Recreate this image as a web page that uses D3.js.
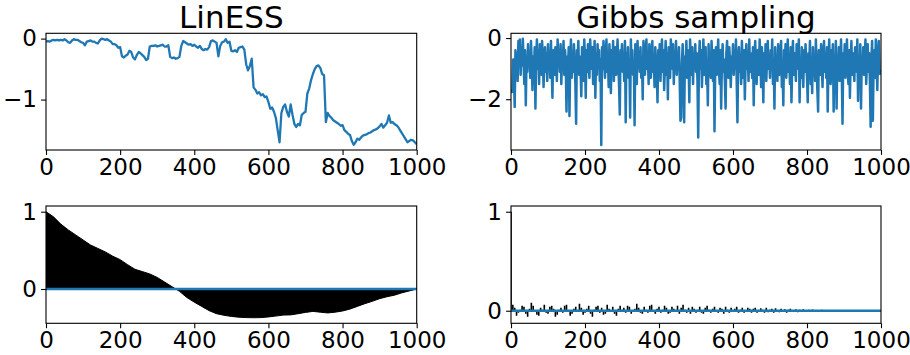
<!DOCTYPE html>
<html>
<head>
<meta charset="utf-8">
<script src="https://cdn.jsdelivr.net/npm/d3@7"></script>
<style>
  body { margin: 0; background: #fff; }
  svg { display: block; }
  text { font-family: "DejaVu Sans", sans-serif; fill: #000; }
</style>
</head>
<body>
<div id="chart"></div>
<script>
// --- data ---
const titles = ['LinESS', 'Gibbs sampling'];
const xTicks = [0, 200, 400, 600, 800, 1000];
const linessTraceTicks = [0, -1];
const gibbsTraceTicks = [0, -2];
const acfTicks = [0, 1];

// LinESS trace, one value every 5 iterations
const linessTraceStep = 5;
const linessTrace = [
  -0.05, -0.04, -0.05, -0.03, -0.02, -0.03, -0.02, -0.03, -0.02, -0.03,
  -0.01, -0.03, -0.06, -0.07, -0.03, -0.01, -0.02, -0.02, -0.04, -0.06,
  -0.07, -0.11, -0.05, -0.04, -0.03, -0.05, -0.05, -0.07, -0.08, -0.03,
  -0.00, -0.01, -0.02, -0.01, -0.03, -0.05, -0.09, -0.09, -0.11, -0.15,
  -0.14, -0.29, -0.31, -0.28, -0.26, -0.20, -0.22, -0.31, -0.34, -0.27,
  -0.22, -0.24, -0.27, -0.30, -0.35, -0.33, -0.13, -0.12, -0.12, -0.11,
  -0.13, -0.12, -0.11, -0.10, -0.13, -0.13, -0.11, -0.30, -0.32, -0.31,
  -0.33, -0.32, -0.30, -0.12, -0.04, -0.06, -0.08, -0.10, -0.09, -0.12,
  -0.10, -0.13, -0.15, -0.12, -0.17, -0.19, -0.17, -0.18, -0.14, -0.04,
  -0.03, -0.05, -0.07, -0.29, -0.12, -0.06, -0.05, -0.01, -0.07, -0.05,
  -0.20, -0.21, -0.19, -0.22, -0.15, -0.14, -0.13, -0.18, -0.42, -0.52,
  -0.45, -0.33, -0.80, -0.84, -0.90, -0.88, -0.93, -0.91, -0.96, -0.95,
  -1.04, -1.15, -1.13, -1.20, -1.30, -1.50, -1.70, -1.22, -1.12, -1.08,
  -1.20, -1.28, -1.08, -1.25, -1.40, -1.45, -1.40, -1.42, -1.25, -1.22,
  -1.20, -0.90, -0.82, -0.68, -0.58, -0.50, -0.45, -0.44, -0.48, -0.58,
  -0.60, -1.37, -1.22, -1.27, -1.30, -1.34, -1.36, -1.38, -1.40, -1.43,
  -1.42, -1.50, -1.53, -1.56, -1.58, -1.68, -1.74, -1.70, -1.64, -1.66,
  -1.62, -1.59, -1.58, -1.57, -1.55, -1.54, -1.52, -1.50, -1.49, -1.47,
  -1.44, -1.40, -1.46, -1.42, -1.38, -1.26, -1.38, -1.37, -1.40, -1.42,
  -1.45, -1.50, -1.55, -1.60, -1.65, -1.70, -1.68, -1.66, -1.67, -1.70,
  -1.73
];

// Gibbs trace, one value every 2 iterations
const gibbsTraceStep = 2;
const gibbsTrace = [
  -1.8, -1.7, -1.75, -0.7, -1.3, -2.25, -0.4, -1.0, -0.5, -1.4, -0.1, -0.6, -0.05, -1.2, -0.3, -0.9, -0.02, -0.8, -1.5, -0.4, -2.2, -0.6, -1.1, -0.2, -0.9,
  -0.5, -1.3, -0.1, -0.8, -1.7, -0.6, -1.1, -0.3, -2.3, -0.7, -0.05, -1.0, -0.4, -1.5, -0.2, -0.9, -1.2, -0.1, -0.6, -1.6, -0.8, -0.3, -1.1, -0.5, -1.4,
  -0.2, -0.9, -0.6, -1.3, -0.1, -1.0, -1.95, -0.4, -0.8, -1.2, -0.3, -0.7, -1.4, -0.05, -0.9, -0.5, -1.1, -0.2, -1.5, -0.6, -0.9, -0.1, -1.2, -0.4, -0.8,
  -2.4, -0.6, -1.0, -0.3, -2.55, -0.8, -0.05, -1.3, -0.5, -1.1, -0.2, -0.9, -1.5, -2.8, -0.4, -0.7, -0.1, -1.2, -0.6, -1.0, -1.9, -0.3, -0.8, -1.4, -0.05,
  -0.7, -1.95, -0.4, -1.1, -0.2, -0.9, -1.3, -0.05, -0.6, -1.0, -0.3, -1.5, -0.8, -0.1, -1.95, -0.5, -1.2, -0.2, -0.9, -0.4, -1.4, -0.7, -3.5, -0.3, -1.0,
  -0.1, -0.8, -1.3, -0.5, -0.05, -1.1, -0.6, -1.6, -0.2, -0.9, -1.8, -0.4, -1.0, -0.1, -1.4, -0.7, -0.3, -1.2, -0.6, -0.05, -0.9, -1.5, -2.5, -0.4, -0.8,
  -0.2, -1.1, -0.6, -1.4, -0.1, -2.75, -0.5, -0.9, -0.3, -1.3, -0.7, -2.6, -0.05, -1.0, -0.4, -1.2, -0.8, -2.85, -0.2, -0.6, -1.5, -0.1, -0.9, -0.5, -1.1,
  -0.3, -1.3, -0.7, -2.0, -0.1, -0.8, -1.2, -0.4, -0.05, -1.0, -0.6, -1.5, -0.2, -0.9, -1.3, -0.5, -0.1, -1.1, -0.7, -1.6, -0.3, -0.8, -1.2, -2.1, -0.4,
  -0.9, -0.2, -1.4, -0.6, -0.05, -1.1, -0.4, -1.7, -0.8, -0.1, -1.2, -0.5, -2.0, -0.3, -0.9, -1.3, -0.05, -0.7, -1.0, -0.2, -1.5, -0.6, -0.9, -0.1, -1.2,
  -0.5, -0.9, -0.3, -1.4, -2.7, -2.6, -0.8, -0.2, -1.1, -2.75, -0.6, -1.0, -0.1, -1.3, -0.4, -0.8, -2.1, -0.05, -0.7, -1.2, -0.3, -1.5, -0.6, -0.9, -0.2,
  -1.1, -0.5, -1.4, -3.25, -0.7, -0.1, -1.0, -0.4, -1.6, -0.8, -0.05, -1.2, -0.6, -0.3, -1.5, -0.9, -2.2, -0.2, -1.1, -0.6, -1.3, -0.1, -0.8, -1.4, -0.4,
  -3.05, -0.9, -0.3, -1.2, -0.6, -0.05, -1.0, -1.5, -0.4, -2.3, -0.8, -0.2, -1.1, -0.7, -1.4, -2.3, -0.5, -0.1, -0.9, -1.3, -0.3, -0.8, -1.6, -0.6, -1.0,
  -0.2, -1.2, -0.5, -0.9, -0.05, -1.4, -2.75, -0.7, -0.3, -1.1, -0.6, -1.5, -0.1, -0.9, -1.3, -0.4, -2.0, -0.8, -0.2, -1.0, -0.6, -1.4, -0.05, -1.1, -0.5,
  -0.9, -1.3, -0.3, -2.2, -0.7, -0.1, -1.0, -1.5, -0.4, -0.8, -1.2, -0.05, -0.6, -1.6, -0.3, -0.9, -2.1, -0.5, -1.1, -0.2, -1.4, -0.7, -0.1, -1.0, -0.6,
  -1.3, -0.4, -0.9, -0.05, -1.5, -0.7, -2.3, -0.3, -1.1, -0.6, -1.4, -0.2, -0.8, -1.2, -0.5, -0.1, -1.6, -0.9, -2.2, -0.4, -1.0, -0.2, -1.3, -0.7, -0.05,
  -1.1, -0.6, -1.5, -0.3, -2.1, -0.8, -0.1, -1.2, -0.5, -0.9, -1.4, -0.2, -1.0, -0.6, -0.05, -2.1, -0.7, -1.3, -0.3, -0.9, -1.6, -0.4, -1.1, -0.2, -0.8,
  -1.3, -2.1, -0.5, -0.9, -0.1, -1.5, -0.7, -1.8, -0.3, -1.1, -0.6, -1.4, -0.05, -1.0, -1.7, -2.4, -0.4, -0.8, -1.2, -0.2, -0.9, -1.6, -0.5, -0.1, -1.1,
  -0.6, -1.3, -0.3, -2.4, -0.8, -0.05, -1.0, -1.5, -0.4, -0.9, -0.2, -2.4, -0.7, -1.2, -0.1, -2.3, -0.6, -1.0, -0.3, -1.4, -0.8, -0.05, -1.1, -2.8, -0.5,
  -0.9, -0.2, -1.3, -0.6, -0.05, -1.0, -1.5, -0.4, -1.95, -0.7, -0.1, -1.2, -0.5, -0.9, -1.4, -0.3, -0.8, -1.1, -0.05, -2.05, -0.6, -1.3, -0.2, -2.3, -0.7,
  -1.0, -0.3, -1.2, -0.6, -0.05, -1.5, -0.8, -0.2, -1.1, -0.5, -1.4, -2.9, -0.7, -0.1, -2.7, -0.9, -0.4, -1.3, -0.05, -0.8, -1.7, -0.6, -0.1, -1.0, -1.2
];

// LinESS autocorrelation, one value every 20 lags
const linessAcfStep = 20;
const linessAcf = [
  1.00, 0.935, 0.84, 0.765, 0.70, 0.635, 0.57, 0.525, 0.48, 0.425,
  0.38, 0.315, 0.255, 0.225, 0.195, 0.15, 0.09, 0.03, -0.03, -0.11,
  -0.17, -0.225, -0.28, -0.32, -0.34, -0.355, -0.365, -0.37, -0.372, -0.37,
  -0.362, -0.35, -0.338, -0.335, -0.32, -0.303, -0.29, -0.30, -0.31, -0.30,
  -0.285, -0.26, -0.225, -0.19, -0.16, -0.125, -0.10, -0.08, -0.05, -0.025,
  0.00
];

// Gibbs autocorrelation, one value every 5 lags
const gibbsAcfStep = 5;
const gibbsAcf = [
  1.00,
  // lags 5-300
  0.06, 0.03, -0.05, -0.02, 0.01, 0.05, 0.04, -0.03, -0.06, 0.02, 0.08, 0.05, -0.01, -0.04, -0.05, 0.03, 0.01, 0.06, -0.02, -0.03,
  0.04, 0.05, 0.02, -0.06, -0.04, 0.01, 0.03, -0.02, 0.05, 0.06, -0.01, -0.05, -0.03, 0.02, 0.04, -0.01, 0.07, 0.03, -0.04, -0.02,
  0.02, 0.05, -0.03, -0.06, 0.01, 0.04, 0.05, -0.02, 0.03, -0.04, -0.03, 0.06, 0.02, -0.01, 0.04, -0.03, -0.05, 0.02, 0.05, 0.01,
  // lags 305-650
  0.03, -0.02, 0.05, 0.04, -0.03, -0.01, 0.02, 0.07, 0.03, -0.02, -0.03, 0.04, 0.01, -0.02, 0.05, 0.06, -0.01, -0.03, 0.02, 0.04,
  -0.02, 0.01, 0.05, 0.03, -0.03, -0.02, 0.04, 0.02, -0.01, 0.05, -0.03, 0.03, 0.06, 0.01, -0.02, 0.03, -0.03, 0.04, 0.02, -0.02,
  0.01, 0.04, -0.02, -0.03, 0.03, 0.05, 0.01, -0.02, 0.02, 0.04, -0.01, -0.02, 0.03, 0.02, -0.03, 0.04, 0.01, -0.02, 0.03, -0.01,
  0.02, 0.04, -0.02, 0.01, 0.03, -0.02, -0.01, 0.03, 0.02, -0.02,
  // lags 655-800
  0.02, 0.03, -0.02, -0.01, 0.025, 0.01, -0.02, 0.03, -0.015, 0.01, 0.02, -0.02, 0.025, 0.005, -0.015, 0.02, -0.01, 0.015, -0.02, 0.01,
  0.02, -0.01, 0.005, 0.015, -0.015, 0.01, -0.01, 0.015, 0.005, -0.01,
  // lags 805-1000
  0.01, -0.008, 0.012, 0.004, -0.01, 0.008, -0.006, 0.01, 0.003, -0.008, 0.007, -0.005, 0.006, 0.002, -0.006, 0.005, -0.004, 0.006, -0.003, 0.004,
  0.004, -0.004, 0.003, 0.002, -0.003, 0.003, -0.002, 0.003, 0.001, -0.002, 0.002, -0.002, 0.002, 0.001, -0.001, 0.001, -0.001, 0.001, 0.0, 0.0
];

// --- layout ---
const W = 910, H = 355;
const blue = '#1f77b4';
const cols = [{ left: 46, right: 416.7 }, { left: 511, right: 881 }];
const rows = [{ top: 33.3, bottom: 150 }, { top: 206, bottom: 323.3 }];
const tickFont = 23;
const titleFont = 31;

const fmt = d => (d < 0 ? '\u2212' + Math.abs(d) : String(d));

const svg = d3.select('#chart')
  .append('svg')
  .attr('width', W)
  .attr('height', H);

let clipId = 0;

function drawPanel(col, row, yDomain, yTicks) {
  const c = cols[col], r = rows[row];
  const x = d3.scaleLinear().domain([0, 1000]).range([c.left, c.right]);
  const y = d3.scaleLinear().domain(yDomain).range([r.bottom, r.top]);

  const id = 'clip' + (clipId++);
  svg.append('clipPath').attr('id', id)
    .append('rect')
    .attr('x', c.left).attr('y', r.top)
    .attr('width', c.right - c.left).attr('height', r.bottom - r.top);

  const plot = svg.append('g').attr('clip-path', `url(#${id})`);

  // axes
  const xAxis = svg.append('g')
    .attr('transform', `translate(0,${r.bottom})`)
    .call(d3.axisBottom(x).tickValues(xTicks).tickFormat(fmt).tickSize(4.9).tickPadding(3.8));
  const yAxis = svg.append('g')
    .attr('transform', `translate(${c.left},0)`)
    .call(d3.axisLeft(y).tickValues(yTicks).tickFormat(fmt).tickSize(4.9).tickPadding(4.2));

  [xAxis, yAxis].forEach(a => {
    a.select('.domain').remove();
    a.attr('font-size', tickFont).attr('font-family', '"DejaVu Sans", sans-serif');
    a.selectAll('.tick line').attr('stroke', '#000').attr('stroke-width', 1.1);
    a.selectAll('.tick text').attr('fill', '#000');
  });

  const frame = () => svg.append('rect')
    .attr('x', c.left).attr('y', r.top)
    .attr('width', c.right - c.left).attr('height', r.bottom - r.top)
    .attr('fill', 'none').attr('stroke', '#000').attr('stroke-width', 1.1);

  return { x, y, plot, frame };
}

function drawTrace(col, values, step, yDomain, yTicks, width) {
  const p = drawPanel(col, 0, yDomain, yTicks);
  const line = d3.line()
    .x((d, i) => p.x(i * step))
    .y(d => p.y(d));
  p.plot.append('path')
    .datum(values)
    .attr('fill', 'none')
    .attr('stroke', blue)
    .attr('stroke-width', width)
    .attr('stroke-linejoin', 'round')
    .attr('d', line);
  p.frame();
  svg.append('text')
    .attr('x', (cols[col].left + cols[col].right) / 2)
    .attr('y', 28)
    .attr('text-anchor', 'middle')
    .attr('font-size', titleFont)
    .text(titles[col]);
}

function zeroLine(p) {
  p.plot.append('path')
    .datum([0, 1000])
    .attr('fill', 'none')
    .attr('stroke', blue)
    .attr('stroke-width', 2.3)
    .attr('d', d3.line().x(d => p.x(d)).y(() => p.y(0)));
}

// top row: traces
drawTrace(0, linessTrace, linessTraceStep, [-1.827, 0.087], linessTraceTicks, 2.3);
drawTrace(1, gibbsTrace, gibbsTraceStep, [-3.66, 0.155], gibbsTraceTicks, 2.5);

// bottom left: smooth autocorrelation, filled to zero
{
  const p = drawPanel(0, 1, [-0.444, 1.074], acfTicks);
  const area = d3.area()
    .x((d, i) => p.x(i * linessAcfStep))
    .y0(p.y(0))
    .y1(d => p.y(d));
  p.plot.append('path')
    .datum(linessAcf)
    .attr('fill', '#000')
    .attr('stroke', '#000')
    .attr('stroke-width', 1)
    .attr('d', area);
  zeroLine(p);
  p.frame();
}

// bottom right: noisy autocorrelation as vertical lines
{
  const p = drawPanel(1, 1, [-0.127, 1.058], acfTicks);
  p.plot.selectAll('line.acf')
    .data(gibbsAcf)
    .enter()
    .append('line')
    .attr('class', 'acf')
    .attr('x1', (d, i) => p.x(i * gibbsAcfStep))
    .attr('x2', (d, i) => p.x(i * gibbsAcfStep))
    .attr('y1', p.y(0))
    .attr('y2', d => p.y(d))
    .attr('stroke', '#000')
    .attr('stroke-width', 1.6);
  zeroLine(p);
  p.frame();
}
</script>
</body>
</html>
